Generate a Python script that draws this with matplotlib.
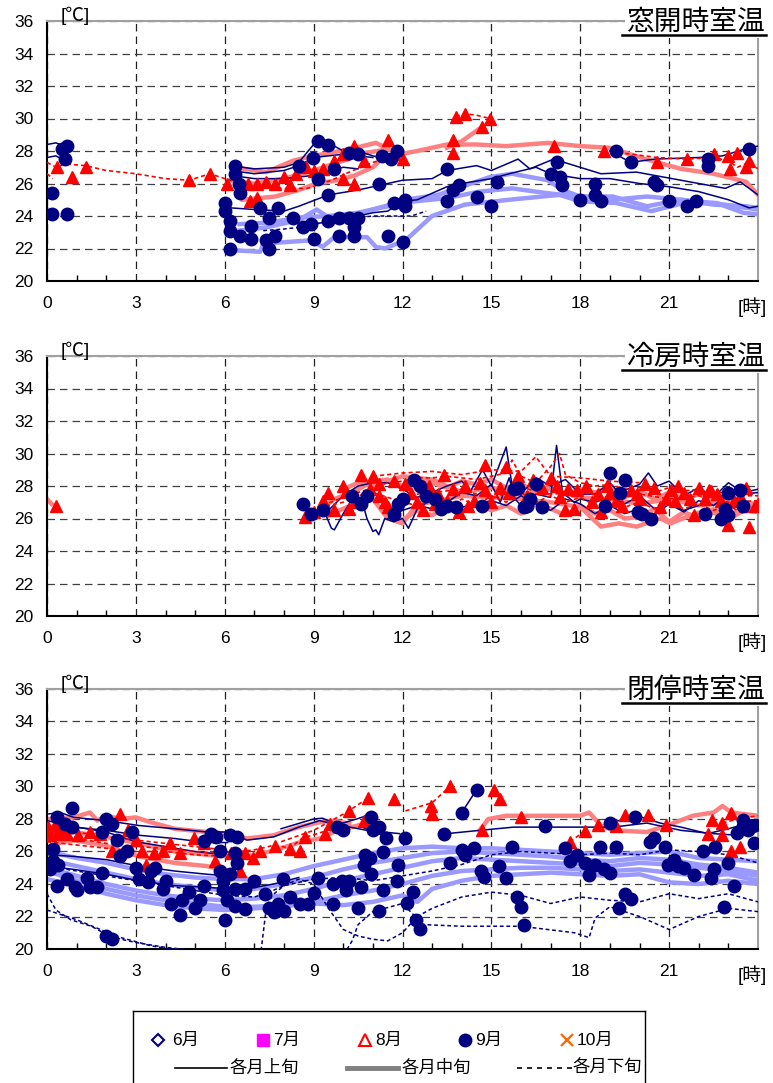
import matplotlib
matplotlib.use("Agg")
import matplotlib.pyplot as plt
from matplotlib.lines import Line2D

plt.rcParams['font.family'] = ['Liberation Sans', 'Noto Sans CJK JP', 'DejaVu Sans']

# ---------------- data (hour, temp) ----------------
hour_ticks = [0, 3, 6, 9, 12, 15, 18, 21, 24]
hour_labels = ['0', '3', '6', '9', '12', '15', '18', '21', '']
temp_ticks = [20, 22, 24, 26, 28, 30, 32, 34, 36]
titles = ['窓開時室温', '冷房時室温', '閉停時室温']

# panel 1 : window open
p1_aug_mid = [
    [(6.3, 27.0), (7.4, 26.7), (8.3, 27.4), (9.0, 27.7), (10.2, 28.1), (11.1, 28.5), (11.9, 27.8),
     (12.5, 28.0), (13.5, 28.4), (14.5, 28.4), (15.5, 28.3), (16.9, 28.5), (18.0, 28.3), (19.0, 28.2),
     (20.2, 27.5), (21.4, 26.9), (22.5, 26.6), (23.6, 26.1), (24.0, 25.3)],
    [(6.6, 25.0), (7.7, 25.2), (8.5, 25.6), (9.1, 26.0), (9.8, 26.2), (10.4, 26.5), (11.0, 27.0),
     (11.4, 27.7), (12.0, 27.9)],
    [(6.2, 26.2), (7.0, 26.0), (8.0, 26.3), (9.0, 26.8), (10.0, 27.4), (10.8, 27.9), (11.5, 28.1)],
    [(13.5, 28.2), (14.0, 28.6), (14.7, 29.5)],
]
p1_aug_late = [
    [(0.0, 27.3), (0.3, 27.0), (0.6, 27.2), (1.3, 27.1), (2.0, 26.8), (3.0, 26.6), (4.0, 26.3),
     (4.8, 26.2), (5.5, 26.6), (6.0, 26.3), (7.0, 25.8), (8.0, 25.7), (8.8, 25.7), (9.6, 26.2),
     (10.2, 26.7), (11.0, 27.3), (11.6, 27.6)],
    [(0.0, 26.6), (0.2, 26.3)],
    [(13.8, 30.1), (14.1, 30.3), (14.5, 30.2), (14.95, 30.0)],
    [(18.8, 28.0), (19.3, 27.9), (20.6, 27.6), (21.6, 27.5), (22.5, 27.6), (23.0, 27.4), (23.3, 27.0),
     (23.7, 27.3), (24.0, 26.9)],
]
p1_sep_early = [
    [(0.0, 28.4), (0.3, 28.5), (0.6, 28.3)],
    [(0.0, 27.6), (0.3, 27.7), (0.5, 27.5)],
    [(6.2, 27.1), (7.0, 26.9), (8.0, 27.0), (8.5, 27.3), (9.0, 28.4), (9.5, 28.5), (10.0, 28.0),
     (10.5, 28.0), (11.0, 27.7), (11.5, 27.5), (12.0, 27.8)],
    [(6.2, 26.8), (7.0, 26.6), (8.0, 26.8), (8.5, 27.1), (9.0, 27.6), (10.0, 27.8), (11.0, 27.6)],
    [(6.2, 26.5), (7.0, 26.3), (8.0, 26.3), (9.0, 26.5), (10.0, 27.0), (10.5, 26.9)],
    [(6.2, 24.5), (7.0, 24.4), (8.0, 24.3), (8.5, 24.6), (9.5, 25.3), (10.5, 25.6), (11.5, 26.0),
     (12.0, 26.2), (13.0, 26.3), (13.5, 26.8), (14.5, 27.1), (15.0, 26.8), (15.9, 27.5), (16.3, 26.9),
     (17.1, 27.5), (18.7, 26.6), (19.9, 26.7), (20.8, 26.4), (22.0, 26.0), (22.9, 25.7), (23.4, 26.1),
     (24.0, 25.3)],
    [(9.0, 23.5), (10.0, 23.8), (11.0, 24.2), (11.5, 24.3), (12.0, 24.9), (12.5, 25.0), (13.0, 25.4),
     (13.5, 25.8), (14.0, 26.0), (15.0, 26.3), (15.6, 26.6), (16.5, 27.0), (17.0, 26.6), (18.0, 26.3),
     (19.0, 26.3), (20.0, 26.0), (21.0, 25.8), (22.0, 25.5), (23.0, 25.0), (23.7, 24.5), (24.0, 24.6)],
    [(19.0, 28.0), (19.3, 27.7), (19.7, 27.3), (20.5, 27.5), (22.0, 27.6), (22.8, 27.7), (23.7, 28.2),
     (24.0, 28.3)],
]
p1_sep_mid = [
    [(6.2, 21.9), (7.2, 21.8), (7.3, 22.3), (8.9, 22.5), (9.3, 22.1), (9.7, 22.7), (10.8, 22.7),
     (11.1, 22.1), (11.4, 22.0), (12.1, 22.5), (13.0, 24.0), (14.1, 24.7), (15.6, 25.0), (17.3, 25.3),
     (18.0, 24.9), (19.2, 24.8), (20.4, 24.3), (21.5, 24.8), (22.6, 24.8), (23.5, 24.2), (24.0, 24.1)],
    [(6.5, 23.1), (7.4, 23.3), (8.5, 23.75), (9.1, 24.4), (9.6, 23.8), (10.2, 24.0), (11.0, 24.4),
     (11.4, 24.6), (12.1, 25.0), (13.2, 25.3), (14.0, 25.8), (14.95, 26.4), (15.7, 26.6), (16.9, 26.2),
     (17.4, 25.6), (18.0, 25.2), (19.1, 25.0), (20.25, 25.2), (21.4, 25.0), (22.5, 24.7), (23.6, 24.6),
     (24.0, 24.5)],
    [(6.5, 23.5), (7.5, 23.6), (8.5, 23.9), (9.5, 24.0), (10.5, 24.2), (11.24, 24.5), (12.4, 24.9),
     (13.5, 25.1), (14.6, 25.5), (15.7, 25.7), (16.9, 25.4), (17.4, 25.3), (18.0, 25.2), (19.1, 25.2),
     (20.25, 24.6), (21.4, 25.0), (22.5, 24.8), (23.6, 24.5), (24.0, 24.4)],
    [(0.0, 24.4), (0.25, 24.3)],
]
p1_sep_late = [
    [(7.3, 23.1), (8.0, 23.2), (8.5, 23.3), (9.3, 23.6), (10.0, 23.8), (11.0, 24.0), (12.3, 24.0),
     (12.8, 24.3)],
]
p1_aug_pts = [
    (0.33, 27.0), (0.83, 26.4), (1.33, 27.0), (4.8, 26.2), (5.5, 26.6), (6.06, 26.0), (6.85, 24.9),
    (7.1, 25.1), (6.8, 26.0), (7.1, 26.0), (7.4, 26.1), (7.7, 26.0), (8.0, 26.4), (8.2, 25.9),
    (8.4, 26.6), (8.75, 27.0), (9.0, 26.8), (9.3, 26.9), (9.7, 27.4), (10.0, 26.3), (10.35, 26.0),
    (10.0, 27.8), (10.35, 28.3), (10.7, 27.4), (11.5, 28.7), (11.7, 27.8), (12.0, 27.5), (13.7, 28.7),
    (13.7, 27.9), (13.8, 30.1), (14.1, 30.3), (14.7, 29.5), (14.95, 30.0), (17.1, 28.3), (18.8, 28.0),
    (20.6, 27.3), (21.6, 27.5), (22.5, 27.8), (23.0, 27.7), (23.3, 27.9), (23.05, 26.9), (23.6, 27.0),
    (23.7, 27.4),
]
p1_sep_pts = [
    (0.16, 25.4), (0.16, 24.1), (0.66, 24.1), (0.66, 28.3), (0.52, 28.1), (0.62, 27.5), (6.35, 27.1),
    (6.35, 26.6), (6.47, 26.0), (6.5, 25.4), (6.0, 24.8), (6.0, 24.3), (6.17, 23.7), (6.17, 23.1),
    (6.17, 22.0), (6.5, 22.8), (6.9, 23.4), (6.9, 22.6), (7.2, 24.5), (7.4, 22.5), (7.5, 22.0),
    (7.5, 23.9), (7.7, 22.8), (7.8, 24.5), (8.3, 23.9), (8.5, 27.1), (8.65, 23.3), (8.9, 23.5),
    (9.0, 22.6), (9.15, 28.6), (9.5, 28.4), (8.99, 27.6), (9.15, 26.3), (9.5, 25.3), (9.7, 26.9),
    (9.5, 23.7), (9.85, 23.9), (9.85, 22.8), (10.2, 23.9), (10.35, 22.8), (10.5, 23.9), (10.2, 27.9),
    (10.5, 27.8), (10.35, 23.3), (11.2, 26.0), (11.3, 27.7), (11.5, 22.8), (11.7, 24.8), (11.6, 27.5),
    (11.8, 28.0), (12.0, 22.4), (12.1, 25.0), (12.1, 24.6), (13.5, 26.9), (13.5, 24.9), (13.7, 25.6),
    (13.9, 25.9), (14.5, 25.2), (15.0, 24.6), (15.2, 26.1), (17.0, 26.6), (17.2, 27.3), (17.3, 26.4),
    (17.4, 25.9), (18.0, 25.0), (18.5, 26.0), (18.5, 25.3), (18.7, 24.9), (19.2, 28.0), (19.7, 27.3),
    (20.5, 26.1), (20.6, 25.9), (21.0, 24.9), (21.6, 24.6), (21.9, 24.9), (22.3, 27.5), (22.3, 27.1),
    (23.7, 28.1),
]

# panel 2 : cooling
p2_aug_mid = [
    [(0.0, 27.2), (0.15, 26.9)],
    [(9.2, 26.5), (9.7, 27.2), (10.3, 27.6), (11.0, 28.3), (11.5, 28.4), (12.0, 28.0), (12.5, 28.3),
     (13.0, 28.2), (13.5, 27.9), (14.0, 28.3), (14.5, 28.1), (15.0, 28.4), (15.5, 27.9), (16.0, 28.1),
     (16.5, 27.7), (17.0, 28.0), (17.5, 27.5), (18.0, 27.8), (18.5, 27.6), (19.0, 27.9), (19.5, 27.3),
     (20.0, 27.7), (20.5, 27.2), (21.0, 27.6), (21.5, 27.2), (22.0, 27.5), (22.5, 27.0), (23.0, 27.3),
     (23.5, 26.8), (24.0, 27.0)],
    [(11.5, 26.6), (12.0, 25.9), (12.5, 26.5), (13.0, 26.2), (13.5, 26.7), (14.0, 26.4), (14.5, 26.9),
     (15.0, 26.5), (15.5, 26.8), (16.0, 26.3), (16.5, 26.9), (17.0, 26.6), (17.5, 26.2), (18.0, 26.8),
     (18.5, 26.3), (19.0, 26.5), (19.5, 26.0), (20.0, 26.1), (20.5, 26.6), (21.0, 25.8), (21.5, 26.4),
     (22.0, 26.0), (22.5, 26.6), (23.0, 25.9), (23.5, 26.5), (24.0, 26.4)],
    [(9.5, 26.2), (10.0, 26.6), (10.5, 27.0), (11.0, 27.2), (11.5, 26.0), (12.0, 25.7), (12.5, 26.9),
     (13.0, 27.0), (14.0, 27.4), (15.0, 27.3), (16.0, 27.2), (17.0, 27.0), (18.0, 26.7), (18.7, 25.5),
     (19.3, 25.7), (19.9, 25.5), (20.7, 26.0), (21.05, 25.7), (21.6, 26.1), (22.2, 26.5), (23.0, 26.1),
     (23.65, 26.9), (24.0, 26.7)],
    [(10.0, 27.8), (10.5, 28.2), (11.0, 28.0), (12.0, 28.6), (13.0, 28.4), (14.0, 27.6), (15.0, 27.9),
     (16.0, 27.5), (17.0, 27.8), (18.0, 27.3), (19.0, 27.2), (20.0, 26.9), (21.0, 27.2), (22.0, 26.8),
     (23.0, 27.0), (24.0, 26.5)],
]
p2_aug_late = [
    [(9.3, 26.8), (10.0, 27.3), (10.5, 27.6), (11.0, 27.9), (11.5, 28.2), (12.0, 28.3), (12.5, 28.5),
     (13.0, 28.5), (13.5, 28.6), (14.0, 28.5), (14.5, 28.4), (15.0, 28.6), (15.5, 28.8), (15.7, 29.6),
     (16.0, 28.6), (16.5, 28.2), (17.0, 29.2), (17.3, 30.0), (17.5, 28.7), (18.0, 28.2), (18.5, 28.0),
     (19.0, 28.1), (19.5, 27.8), (20.0, 27.9), (20.5, 27.6), (21.0, 27.9), (21.5, 27.7), (22.0, 27.8),
     (22.5, 27.5), (23.0, 27.7), (23.5, 27.4), (24.0, 27.4)],
    [(12.0, 27.4), (13.0, 27.6), (14.0, 27.8), (15.0, 27.2), (16.0, 27.9), (17.0, 27.5), (18.0, 27.6),
     (19.0, 27.3), (20.0, 27.5), (21.0, 27.2), (22.0, 27.4), (23.0, 27.0), (24.0, 27.1)],
    [(9.0, 26.3), (9.5, 26.8), (10.0, 27.0), (10.5, 27.4), (11.0, 27.6), (11.5, 27.3), (12.0, 27.0),
     (12.5, 26.8), (13.0, 27.1), (13.5, 26.6), (14.0, 27.2), (14.5, 26.8), (15.0, 27.4), (15.5, 27.0),
     (16.0, 27.6), (16.5, 27.0), (17.0, 27.4), (17.5, 27.0), (18.0, 27.3), (18.5, 26.8), (19.0, 27.1),
     (19.5, 26.7), (20.0, 27.0), (20.5, 26.6), (21.0, 27.0), (21.5, 26.6), (22.0, 26.9), (22.5, 26.5),
     (23.0, 26.8), (23.5, 26.3), (24.0, 26.6)],
    [(11.0, 28.6), (12.0, 28.8), (13.0, 28.9), (14.0, 28.7), (15.0, 29.0), (16.0, 28.9), (16.5, 29.8),
     (17.0, 28.6), (18.0, 28.5), (19.0, 28.3), (20.0, 28.2)],
]
p2_sep_early = [
    [(9.0, 26.2), (9.3, 26.7), (9.6, 25.4), (9.7, 25.3), (10.0, 26.3), (10.3, 27.2), (10.6, 27.3),
     (10.8, 26.0), (11.0, 25.2), (11.1, 25.3), (11.2, 25.0), (11.4, 26.0), (11.7, 25.8), (12.0, 26.0),
     (12.2, 25.4), (12.5, 26.6), (13.0, 27.2), (13.5, 27.0), (14.0, 27.6), (14.5, 27.4), (15.0, 28.1),
     (15.3, 27.0), (15.6, 28.5), (15.8, 27.2), (16.0, 26.8), (16.5, 27.5), (17.0, 27.3), (17.2, 30.5),
     (17.4, 27.6), (17.8, 27.0), (18.0, 27.2), (18.5, 27.0), (19.0, 27.3), (19.5, 26.9), (20.0, 27.4),
     (20.5, 26.6), (21.0, 26.9), (21.5, 26.4), (22.0, 27.1), (22.5, 26.8), (23.0, 27.5), (23.5, 27.5),
     (24.0, 27.6)],
    [(9.5, 26.5), (10.0, 27.4), (10.5, 28.0), (11.0, 28.2), (11.5, 28.2), (12.0, 27.8), (12.5, 27.3),
     (13.0, 27.6), (13.5, 28.0), (14.0, 28.3), (14.3, 27.7), (14.7, 29.0), (15.0, 28.0), (15.5, 30.4),
     (15.7, 28.0), (16.0, 27.5), (16.5, 28.5), (17.0, 28.0), (17.5, 28.4), (18.0, 27.5), (18.5, 27.5),
     (19.0, 28.2), (19.3, 27.6), (20.0, 28.1), (20.3, 28.8), (20.6, 28.0), (21.0, 28.3), (21.5, 27.4),
     (22.0, 27.9), (22.5, 27.3), (23.0, 28.2), (23.5, 27.6), (24.0, 27.8)],
    [(11.5, 26.0), (12.0, 26.5), (12.5, 26.8), (13.0, 26.6), (13.5, 27.0), (14.0, 26.7), (14.5, 26.9),
     (15.0, 27.1), (15.5, 26.8), (16.0, 27.4), (16.5, 26.9), (17.0, 26.5), (17.5, 27.2), (18.0, 26.9),
     (18.5, 26.3), (19.0, 26.8), (19.5, 26.3), (20.0, 26.6), (20.5, 26.2), (21.0, 26.9), (21.5, 26.5),
     (22.0, 26.8)],
]
p2_sep_mid = []
p2_sep_late = []
p2_aug_pts = [
    (0.3, 26.8), (8.7, 26.1), (9.3, 27.1), (9.7, 26.5), (10.0, 28.0), (10.1, 27.65), (10.2, 26.6),
    (10.6, 28.7), (11.0, 28.6), (11.2, 28.1), (11.2, 27.4), (11.5, 26.7), (11.7, 28.3), (12.1, 28.1),
    (12.7, 26.5), (13.1, 26.9), (13.4, 28.7), (13.5, 27.1), (13.9, 26.4), (14.1, 28.0), (14.4, 27.1),
    (14.8, 29.3), (14.8, 27.75), (15.3, 27.9), (15.5, 29.2), (16.4, 28.4), (17.0, 28.5), (17.3, 27.3),
    (17.5, 26.5), (17.8, 26.6), (17.9, 27.75), (18.2, 28.0), (18.6, 27.5), (18.7, 26.4), (18.9, 28.0),
    (19.2, 27.1), (19.7, 27.75), (19.9, 27.5), (20.5, 27.9), (20.7, 26.7), (21.05, 27.75), (21.2, 27.1),
    (21.5, 27.6), (21.85, 26.2), (22.0, 27.85), (22.35, 27.75), (22.75, 27.1), (23.0, 25.6),
    (23.2, 27.1), (23.7, 25.5), (23.9, 26.8), (22.4, 27.7),
    (9.0, 26.4), (9.5, 27.6), (10.4, 27.0), (10.9, 27.8), (11.4, 27.0), (12.3, 27.6), (12.5, 27.0),
    (12.9, 28.0), (13.2, 27.5), (13.7, 27.8), (14.2, 26.8), (14.6, 28.2), (15.0, 27.0), (15.6, 27.6),
    (15.9, 28.6), (16.2, 27.4), (16.7, 27.9), (17.2, 28.0), (17.6, 27.8), (18.4, 27.0), (19.0, 27.6),
    (19.4, 26.8), (20.0, 27.2), (20.2, 28.1), (20.9, 27.2), (21.3, 28.0), (21.7, 27.2), (22.2, 27.2),
    (22.6, 27.5), (23.4, 27.4), (23.6, 27.9), (24.0, 26.9),
]
p2_sep_pts = [
    (8.65, 26.9), (8.9, 26.3), (9.3, 26.5), (10.3, 27.4), (10.6, 26.9), (10.8, 27.4), (11.7, 26.3),
    (11.85, 26.9), (12.0, 27.2), (12.4, 28.4), (12.6, 28.0), (12.8, 27.4), (13.1, 27.2), (13.3, 26.6),
    (13.5, 26.8), (13.8, 26.7), (14.7, 26.8), (15.75, 27.8), (15.9, 27.9), (16.1, 26.7), (16.5, 28.1),
    (16.7, 26.7), (16.2, 26.8), (16.3, 27.2), (18.85, 26.8), (19.0, 28.8), (19.35, 27.6), (19.5, 28.4),
    (19.95, 26.4), (20.1, 26.3), (20.4, 26.0), (22.2, 26.3), (22.9, 26.6), (22.75, 26.0), (23.0, 26.2),
    (23.0, 27.6), (23.4, 27.75), (23.5, 26.8),
]

# panel 3 : closed / stopped
p3_aug_mid = [
    [(0.0, 28.0), (0.9, 28.1), (1.45, 28.4), (1.7, 27.9), (2.0, 28.2), (2.5, 28.0), (3.0, 28.1),
     (3.5, 27.8), (4.3, 27.4), (5.4, 27.2), (6.1, 27.1), (6.75, 26.8), (7.65, 27.0), (8.5, 27.5),
     (9.2, 27.8), (9.7, 27.9), (10.2, 27.7)],
    [(0.0, 26.0), (0.45, 26.55), (0.9, 26.7), (2.0, 26.35), (3.1, 25.7), (4.3, 25.3), (5.4, 25.1),
     (6.1, 24.8)],
    [(0.0, 26.9), (0.9, 27.2), (2.0, 26.9), (3.1, 26.5), (4.3, 26.0), (5.4, 25.8), (6.1, 25.7),
     (6.75, 25.7), (7.65, 26.05), (8.5, 26.55), (9.2, 26.8), (9.8, 27.3), (10.5, 27.6), (11.0, 27.9)],
    [(14.6, 27.3), (14.9, 28.0), (15.5, 28.2), (16.9, 28.2), (18.0, 28.2), (18.3, 28.4), (18.7, 27.6),
     (19.1, 27.3), (20.25, 27.2), (21.0, 27.65), (21.8, 28.2), (22.5, 28.4), (22.8, 28.8), (23.1, 28.4),
     (24.0, 28.2)],
]
p3_aug_late = [
    [(0.0, 27.0), (1.0, 26.8), (2.0, 26.5), (3.0, 26.3), (4.0, 26.2), (5.0, 26.0), (5.8, 25.9),
     (6.5, 26.0), (7.0, 26.1), (7.7, 26.4), (8.2, 26.2), (8.6, 26.8), (9.3, 27.2), (9.8, 27.5)],
    [(0.0, 27.4), (1.0, 27.2), (2.0, 26.9), (3.0, 26.7), (4.0, 26.5), (5.0, 26.3), (6.0, 26.1)],
    [(0.0, 26.6), (1.0, 26.4), (2.0, 26.2), (3.0, 26.0), (4.0, 26.0), (5.0, 25.8), (6.0, 25.7)],
    [(7.9, 26.6), (9.0, 27.3), (10.1, 28.4), (10.85, 29.3)],
    [(12.1, 28.5), (13.0, 29.0), (13.6, 30.0)],
    [(17.65, 26.6), (18.15, 27.25)],
    [(22.8, 27.75), (23.3, 28.0), (24.0, 28.2)],
]
p3_sep_early = [
    [(0.0, 28.3), (0.45, 28.4), (0.9, 28.1), (2.0, 27.9), (3.1, 27.6), (4.3, 27.4), (5.4, 27.2),
     (6.1, 27.2), (6.75, 26.7), (7.65, 26.9), (8.5, 27.5), (9.2, 27.9), (9.66, 27.7), (10.8, 27.3),
     (11.9, 27.1)],
    [(0.0, 27.9), (0.9, 27.5), (2.0, 27.3), (3.1, 27.0), (4.3, 26.8), (5.4, 26.55), (6.1, 26.55)],
    [(0.0, 27.3), (0.5, 27.6), (1.0, 27.5), (2.0, 27.2), (3.0, 26.6), (4.0, 26.3), (5.0, 26.0),
     (6.0, 25.8)],
    [(0.0, 25.8), (0.9, 25.7), (2.0, 25.5), (3.1, 25.1), (4.3, 24.8), (5.4, 24.6), (6.1, 24.5)],
    [(0.0, 25.1), (0.9, 24.9), (2.0, 24.6), (3.1, 24.2), (4.3, 23.9), (5.4, 23.8), (6.1, 23.7),
     (6.75, 23.7), (7.65, 24.0), (8.5, 24.4)],
    [(7.9, 27.4), (9.0, 28.0), (9.3, 28.05), (9.8, 27.65), (10.45, 28.0), (10.95, 28.3)],
    [(10.7, 27.45), (11.2, 27.1), (11.45, 26.8)],
    [(14.0, 28.4), (14.5, 29.8)],
    [(13.5, 27.1), (14.6, 27.3), (15.75, 27.5), (16.9, 27.5), (18.0, 27.5), (19.1, 27.5), (20.25, 27.75),
     (21.4, 27.3), (22.5, 27.1), (23.3, 27.0), (24.0, 27.5)],
    [(19.0, 27.75), (19.9, 28.2), (20.7, 27.75), (21.4, 27.5), (22.3, 27.1), (23.0, 27.4), (24.0, 27.9)],
    [(2.0, 20.9), (2.1, 20.7)],
]
p3_sep_mid = [
    [(0, 26.0), (1, 25.6), (2, 25.3), (3, 24.9), (4, 24.6), (5, 24.4), (6, 24.3), (7, 24.3), (8, 24.6),
     (9, 25.1), (10, 25.5), (11, 25.9), (12, 26.2), (13, 26.3), (14, 26.2), (15, 26.2), (16, 26.1),
     (17, 26.0), (18, 25.9), (19, 25.8), (20, 25.9), (21, 26.0), (22, 25.6), (23, 25.5), (24, 25.4)],
    [(0, 25.5), (1, 25.1), (2, 24.7), (3, 24.3), (4, 24.0), (5, 23.8), (6, 23.6), (7, 23.7), (8, 24.0),
     (9, 24.4), (10, 24.9), (11, 25.3), (12, 25.6), (13, 25.9), (14, 26.0), (15, 25.9), (16, 25.8),
     (17, 25.7), (18, 25.5), (19, 25.4), (20, 25.6), (21, 25.5), (22, 25.2), (23, 25.0), (24, 24.7)],
    [(0, 25.0), (1, 24.5), (2, 24.0), (3, 23.6), (4, 23.3), (5, 23.1), (6, 23.0), (7, 23.1), (8, 23.3),
     (9, 23.7), (10, 24.2), (11, 24.6), (12, 25.0), (13, 25.4), (14, 25.6), (15, 25.5), (16, 25.4),
     (17, 25.3), (18, 25.2), (19, 25.1), (20, 25.3), (21, 25.2), (22, 25.0), (23, 24.8), (24, 24.5)],
    [(0, 24.3), (1, 23.9), (2, 23.4), (3, 23.0), (4, 22.7), (5, 22.5), (6, 22.4), (7, 22.5), (8, 22.6),
     (9, 22.9), (10, 23.3), (11, 23.6), (12, 24.0), (13, 24.5), (14, 24.8), (15, 24.9), (16, 25.0),
     (17, 25.0), (18, 24.9), (19, 24.8), (20, 24.9), (21, 24.7), (22, 24.5), (23, 24.6), (24, 24.2)],
    [(0, 24.8), (1, 24.2), (2, 23.7), (3, 23.3), (4, 23.0), (5, 22.8), (6, 22.6), (7, 22.6), (8, 22.7),
     (9, 22.8), (10, 22.7), (11, 22.9), (12, 23.3), (12.5, 22.9), (13, 23.7), (14, 24.2), (15, 24.5),
     (16, 24.6), (17, 24.7), (18, 24.6), (19, 24.5), (20, 24.6), (21, 24.1), (22, 24.0), (23, 24.2),
     (24, 24.0)],
]
p3_sep_late = [
    [(0.0, 23.4), (0.3, 22.4), (0.8, 21.8), (1.5, 21.4), (2.0, 20.9), (2.5, 20.6), (3.0, 20.4),
     (4.0, 20.1), (5.0, 19.9), (6.0, 19.6)],
    [(0.0, 22.4), (0.5, 22.1), (1.0, 21.8), (1.8, 21.2), (2.5, 20.7), (3.5, 20.2), (4.5, 19.9),
     (5.5, 19.7)],
    [(0, 25.1), (1, 24.8), (2, 24.5), (3, 24.2), (4, 23.9), (5, 23.6), (6, 23.3), (7, 23.2), (7.5, 23.5),
     (8, 23.9), (9, 24.3), (10, 24.4), (11, 24.2), (12, 24.5), (13, 24.8), (14, 25.2), (15, 25.8),
     (16, 26.0), (17, 25.9), (18, 25.8), (19, 25.9), (20, 25.8), (21, 26.1), (22, 26.0), (23, 25.8),
     (24, 25.3)],
    [(7.2, 19.5), (7.3, 21.0), (7.4, 22.5), (7.6, 23.3), (8, 23.9), (8.5, 24.3), (9.0, 24.0), (9.5, 22.5),
     (10, 21.2), (10.5, 20.8), (11, 20.6), (11.5, 20.5), (12, 21.0), (12.5, 22.0), (13, 22.5), (14, 23.2),
     (15, 23.5), (16, 23.3), (17, 22.8), (18, 23.2), (19, 23.0), (20, 22.9), (21, 23.4), (22, 23.1),
     (23, 23.4), (24, 22.9)],
    [(7.8, 19.6), (9.0, 19.6), (10.0, 19.6), (10.3, 20.5), (10.5, 21.5), (11.0, 22.3), (12, 22.8),
     (12.7, 21.5), (14, 21.4), (16, 21.4), (17.8, 21.0), (18.3, 20.7), (18.5, 21.9), (19.0, 22.6),
     (19.5, 22.3), (20.0, 22.0), (21, 21.2), (22, 22.0), (23, 22.5), (24, 22.3)],
]
p3_aug_pts = [
    (0.05, 27.5), (0.1, 27.0), (0.27, 27.6), (0.33, 27.1), (0.5, 27.3), (0.66, 27.1), (1.05, 27.0),
    (1.45, 27.2), (1.8, 27.1), (2.2, 26.0), (2.45, 28.3), (2.75, 27.3), (3.0, 26.7), (3.2, 26.05),
    (3.35, 25.2), (3.6, 25.9), (3.9, 26.05), (4.15, 26.5), (4.5, 25.9), (4.95, 26.8), (5.3, 26.5),
    (5.67, 25.4), (6.2, 25.9), (6.5, 24.8), (6.7, 25.9), (6.95, 25.6), (7.2, 26.05), (7.7, 26.35),
    (8.2, 26.15), (8.55, 26.05), (8.7, 26.9), (9.4, 27.1), (9.55, 27.7), (10.2, 28.5), (10.7, 27.85),
    (10.85, 29.3), (11.7, 29.2), (12.95, 28.8), (13.0, 28.3), (13.6, 30.0), (14.7, 27.35), (15.1, 29.8),
    (15.3, 29.2), (16.0, 28.15), (17.65, 26.6), (18.15, 27.25), (18.6, 27.65), (19.2, 27.55),
    (19.5, 28.25), (20.3, 28.25), (20.9, 27.65), (22.3, 27.1), (22.45, 27.95), (22.8, 27.75),
    (22.8, 27.0), (23.1, 28.4), (23.1, 26.0), (23.4, 26.3), (23.5, 27.75),
]
p3_sep_pts = [
    (0.33, 28.1), (0.83, 28.7), (0.2, 26.15), (0.1, 24.9), (0.2, 25.4), (0.38, 25.2), (0.33, 23.9),
    (0.6, 27.7), (0.83, 27.5), (0.66, 24.3), (0.95, 23.8), (1.0, 23.6), (1.34, 24.4), (1.45, 23.8),
    (1.7, 23.8), (1.85, 24.7), (1.85, 27.2), (2.0, 28.0), (2.2, 27.7), (2.35, 26.7), (2.47, 25.7),
    (2.7, 26.05), (2.86, 27.2), (3.0, 25.0), (3.1, 24.3), (3.4, 24.1), (3.5, 24.8), (3.65, 25.0),
    (3.9, 23.7), (4.0, 24.2), (4.2, 22.75), (4.5, 22.1), (4.55, 23.0), (4.8, 23.5), (5.0, 22.55),
    (5.15, 23.0), (5.3, 23.9), (5.3, 26.65), (5.55, 27.1), (5.7, 26.9), (5.85, 26.05), (5.85, 24.8),
    (5.95, 24.2), (5.95, 23.6), (6.0, 21.8), (6.06, 23.0), (6.17, 24.6), (6.17, 27.0), (6.4, 26.9),
    (6.35, 25.9), (6.4, 25.3), (6.35, 23.7), (6.35, 22.65), (6.7, 23.7), (6.7, 22.45), (7.0, 24.2),
    (7.35, 23.4), (7.5, 22.55), (7.65, 22.25), (7.8, 22.75), (7.95, 24.3), (8.0, 22.35), (8.2, 23.2),
    (8.55, 22.75), (8.8, 22.75), (9.0, 23.45), (9.15, 24.4), (9.66, 22.75), (9.8, 27.5), (10.0, 27.3),
    (9.66, 24.0), (9.95, 24.2), (10.1, 23.6), (10.2, 24.2), (10.5, 22.55), (10.6, 23.8), (10.7, 25.2),
    (10.75, 25.8), (10.9, 25.6), (10.95, 24.6), (10.95, 28.1), (11.0, 27.3), (11.2, 27.5),
    (11.2, 22.35), (11.35, 23.6), (11.45, 26.8), (11.35, 25.95), (11.85, 25.2), (11.8, 24.2),
    (2.0, 20.8), (2.2, 20.6), (12.1, 26.8), (12.15, 22.8), (12.35, 23.5), (12.45, 21.8), (12.6, 21.25),
    (13.4, 27.1), (14.0, 28.4), (14.5, 29.8), (14.0, 26.1), (14.1, 25.8), (13.6, 25.3), (14.65, 24.8),
    (14.75, 24.45), (14.4, 26.2), (15.25, 25.1), (15.5, 24.35), (15.7, 26.3), (16.1, 21.5),
    (16.8, 27.55), (15.85, 23.2), (16.0, 22.6), (17.5, 26.2), (17.65, 25.4), (17.9, 25.8),
    (18.15, 25.3), (18.3, 24.55), (18.5, 25.2), (18.8, 24.95), (19.0, 24.65), (18.65, 26.3),
    (19.2, 26.3), (19.0, 27.75), (19.3, 22.5), (19.5, 23.4), (19.7, 23.1), (19.85, 28.15),
    (20.35, 26.6), (20.5, 26.8), (20.85, 26.3), (20.95, 25.2), (21.15, 25.5), (21.3, 25.1),
    (21.5, 25.0), (21.85, 24.55), (22.15, 26.0), (22.4, 24.35), (22.5, 24.9), (22.55, 26.3),
    (22.85, 22.6), (23.0, 25.3), (23.2, 23.85), (23.3, 27.15), (23.5, 27.55), (23.5, 27.95),
    (23.65, 27.35), (23.8, 27.55), (23.85, 26.5), (23.9, 27.65),
]

panels = [
    (p1_sep_mid, p1_aug_mid, p1_sep_early, p1_aug_late, p1_sep_late, p1_aug_pts, p1_sep_pts),
    (p2_sep_mid, p2_aug_mid, p2_sep_early, p2_aug_late, p2_sep_late, p2_aug_pts, p2_sep_pts),
    (p3_sep_mid, p3_aug_mid, p3_sep_early, p3_aug_late, p3_sep_late, p3_aug_pts, p3_sep_pts),
]

# ---------------- styles ----------------
NAVY = '#000080'
RED = '#FF0000'
SALMON = '#FF8080'
LBLUE = '#9999FF'
sty_sep_mid = dict(color=LBLUE, lw=3.2, zorder=2)
sty_aug_mid = dict(color=SALMON, lw=3.2, zorder=2)
sty_sep_early = dict(color=NAVY, lw=1.1, zorder=3)
sty_aug_late = dict(color=RED, lw=1.2, ls=(0, (2.5, 1.8)), zorder=3)
sty_sep_late = dict(color=NAVY, lw=1.1, ls=(0, (2.5, 1.8)), zorder=3)
styles = [sty_sep_mid, sty_aug_mid, sty_sep_early, sty_aug_late, sty_sep_late]

W, H = 773, 1083
fig = plt.figure(figsize=(W / 100, H / 100), dpi=100)

ax_tops = [21, 356, 689]
ax_h = 260
ax_left, ax_right = 47, 758


def draw_series(ax, series, sty):
    for pts in series:
        hs = [p[0] for p in pts]
        ts = [p[1] for p in pts]
        ax.plot(hs, ts, **sty)


for i, top in enumerate(ax_tops):
    ax = fig.add_axes([ax_left / W, 1 - (top + ax_h) / H, (ax_right - ax_left) / W, ax_h / H])
    data = panels[i]
    for series, sty in zip(data[:5], styles):
        draw_series(ax, series, sty)
    tri, circ = data[5], data[6]
    ax.plot([p[0] for p in tri], [p[1] for p in tri], ls='none', marker='^', ms=8.5,
            color=RED, mec=RED, zorder=4)
    ax.plot([p[0] for p in circ], [p[1] for p in circ], ls='none', marker='o', ms=9,
            color=NAVY, mec=NAVY, zorder=5)

    ax.set_xlim(0, 24)
    ax.set_ylim(20, 36)
    ax.set_xticks(hour_ticks)
    ax.set_xticklabels(hour_labels)
    ax.set_xticks(range(25), minor=True)
    ax.set_yticks(temp_ticks)
    ax.tick_params(axis='x', which='major', length=0, pad=11, labelsize=12.5)
    ax.tick_params(axis='x', which='minor', direction='in', length=4, width=1)
    ax.tick_params(axis='y', length=0, pad=10, labelsize=12.5)
    ax.grid(True, axis='x', color='#202020', lw=0.9, ls=(0, (6, 4)))
    ax.grid(True, axis='y', color='#404040', lw=0.9, ls=(0, (6, 4)))
    ax.set_axisbelow(True)
    for s in ['left', 'bottom']:
        ax.spines[s].set_color('black')
        ax.spines[s].set_linewidth(1.5)
    for s in ['top', 'right']:
        ax.spines[s].set_color('#a0a0a0')
        ax.spines[s].set_linewidth(1.5)

    # hour unit label at the 24 position
    ax.text(23.8, -0.1, '[時]', transform=ax.get_xaxis_transform(), ha='center', va='center',
            fontsize=13.5)
    # temperature unit
    fig.text(61 / W, 1 - (top - 5) / H, '[℃]', ha='left', va='center', fontsize=13.5)
    # title with underline
    fig.text(765 / W, 1 - (top + 0.5) / H, titles[i], ha='right', va='center', fontsize=20,
             family=['Noto Sans CJK JP'],
             bbox=dict(facecolor='white', edgecolor='none', pad=1))
    fig.add_artist(Line2D([622 / W, 766 / W], [1 - (top + 14) / H] * 2, color='black', lw=1.8,
                          transform=fig.transFigure, zorder=10))

# ---------------- legend box ----------------
lax = fig.add_axes([133 / W, -0.01, (645 - 133) / W, (H - 1011 + 10.83) / H])
lax.set_xlim(133, 645)
lax.set_ylim(H + 10.83, 1011)
lax.set_xticks([])
lax.set_yticks([])
for s in lax.spines.values():
    s.set_color('black')
    s.set_linewidth(1)

leg_row1_y = 1040
leg_row2_y = 1068
lax.plot([158], [leg_row1_y], marker='D', ms=6.5, mfc='white', mec=NAVY, mew=1.5)
lax.text(172, leg_row1_y, '6月', va='center', ha='left', fontsize=12.5)
lax.plot([263], [leg_row1_y], marker='s', ms=8, color='#FF00FF')
lax.text(273, leg_row1_y, '7月', va='center', ha='left', fontsize=12.5)
lax.plot([365], [leg_row1_y], marker='^', ms=9, mfc='white', mec=RED, mew=1.5)
lax.text(375, leg_row1_y, '8月', va='center', ha='left', fontsize=12.5)
lax.plot([465], [leg_row1_y], marker='o', ms=9, color=NAVY)
lax.text(475, leg_row1_y, '9月', va='center', ha='left', fontsize=12.5)
lax.plot([567], [leg_row1_y], marker='x', ms=9, mew=1.6, color='#FF6600')
lax.text(577, leg_row1_y, '10月', va='center', ha='left', fontsize=12.5)

lax.plot([175, 227], [leg_row2_y] * 2, color='black', lw=1.2)
lax.text(230, leg_row2_y, '各月上旬', va='center', ha='left', fontsize=12.5)
lax.plot([347, 398], [leg_row2_y] * 2, color='#808080', lw=3.5)
lax.text(402, leg_row2_y, '各月中旬', va='center', ha='left', fontsize=12.5)
lax.plot([517, 572], [leg_row2_y] * 2, color='black', lw=1.2, ls=(0, (3, 3)))
lax.text(573, leg_row2_y, '各月下旬', va='center', ha='left', fontsize=12.5)

fig.savefig('out.png', dpi=100)
